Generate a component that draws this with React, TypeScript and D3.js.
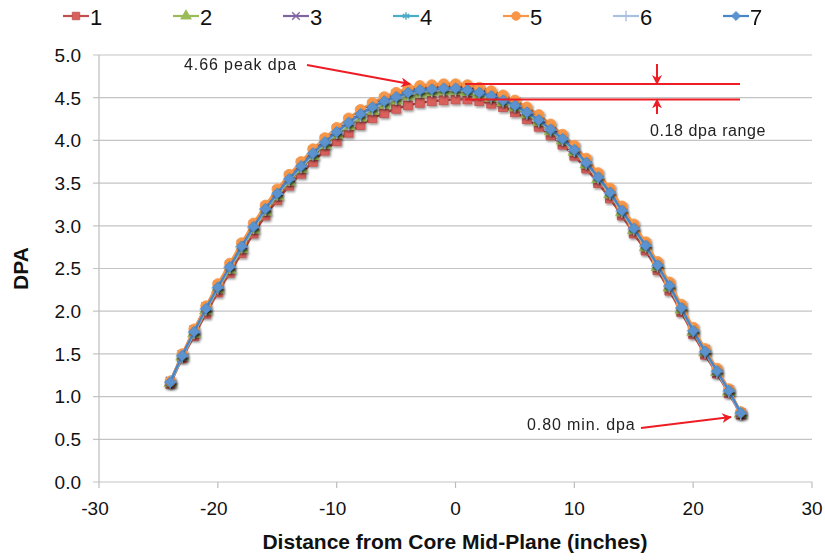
import * as d3 from "d3";

const distance = [
  -24, -23, -22, -21, -20, -19, -18, -17, -16, -15, -14, -13, -12, -11, -10, -9, -8, -7, -6, -5, -4, -3, -2, -1, 0,
  1, 2, 3, 4, 5, 6, 7, 8, 9, 10, 11, 12, 13, 14, 15, 16, 17, 18, 19, 20, 21, 22, 23, 24,
];

const s1 = [
  1.15, 1.45, 1.71, 1.97, 2.22, 2.45, 2.68, 2.91, 3.12, 3.3, 3.47, 3.61, 3.75, 3.88, 3.99, 4.09, 4.18, 4.26, 4.32, 4.37, 4.41, 4.44, 4.46, 4.47, 4.48,
  4.48, 4.46, 4.43, 4.39, 4.33, 4.25, 4.16, 4.06, 3.95, 3.82, 3.67, 3.5, 3.32, 3.12, 2.91, 2.71, 2.48, 2.24, 1.99, 1.73, 1.49, 1.27, 1.04, 0.79,
];
const s2 = [
  1.16, 1.47, 1.74, 2.01, 2.26, 2.49, 2.73, 2.96, 3.17, 3.35, 3.52, 3.67, 3.82, 3.95, 4.07, 4.17, 4.27, 4.35, 4.42, 4.47, 4.52, 4.55, 4.57, 4.58, 4.58,
  4.57, 4.54, 4.5, 4.45, 4.39, 4.31, 4.22, 4.11, 4.0, 3.87, 3.72, 3.55, 3.37, 3.16, 2.95, 2.75, 2.52, 2.28, 2.02, 1.76, 1.52, 1.29, 1.06, 0.8,
];
const s3 = [
  1.18, 1.49, 1.78, 2.05, 2.3, 2.54, 2.78, 3.01, 3.22, 3.41, 3.58, 3.73, 3.88, 4.01, 4.13, 4.24, 4.34, 4.42, 4.49, 4.54, 4.58, 4.61, 4.62, 4.63, 4.63,
  4.62, 4.59, 4.55, 4.5, 4.44, 4.36, 4.27, 4.16, 4.05, 3.92, 3.77, 3.6, 3.42, 3.21, 3.0, 2.79, 2.56, 2.32, 2.06, 1.79, 1.55, 1.31, 1.08, 0.81,
];
const s4 = [
  1.17, 1.48, 1.76, 2.03, 2.28, 2.52, 2.75, 2.98, 3.19, 3.37, 3.54, 3.69, 3.84, 3.97, 4.09, 4.2, 4.3, 4.38, 4.45, 4.5, 4.55, 4.58, 4.59, 4.6, 4.6,
  4.58, 4.55, 4.51, 4.46, 4.4, 4.32, 4.23, 4.12, 4.01, 3.88, 3.73, 3.56, 3.38, 3.17, 2.96, 2.76, 2.53, 2.29, 2.03, 1.77, 1.52, 1.3, 1.07, 0.8,
];
const s5 = [
  1.18, 1.5, 1.79, 2.06, 2.32, 2.56, 2.8, 3.03, 3.24, 3.43, 3.6, 3.75, 3.9, 4.03, 4.15, 4.26, 4.36, 4.44, 4.51, 4.56, 4.61, 4.64, 4.65, 4.66, 4.66,
  4.65, 4.62, 4.58, 4.53, 4.47, 4.39, 4.3, 4.19, 4.07, 3.94, 3.79, 3.62, 3.44, 3.23, 3.02, 2.81, 2.58, 2.34, 2.08, 1.81, 1.56, 1.33, 1.09, 0.82,
];
const s6 = [
  1.17, 1.47, 1.75, 2.02, 2.27, 2.51, 2.75, 2.98, 3.19, 3.37, 3.54, 3.69, 3.84, 3.97, 4.09, 4.19, 4.29, 4.37, 4.44, 4.49, 4.54, 4.57, 4.58, 4.59, 4.59,
  4.58, 4.55, 4.51, 4.46, 4.4, 4.32, 4.23, 4.12, 4.01, 3.88, 3.73, 3.56, 3.38, 3.17, 2.96, 2.76, 2.53, 2.29, 2.03, 1.77, 1.52, 1.29, 1.06, 0.8,
];
const s7 = [
  1.17, 1.48, 1.76, 2.03, 2.28, 2.52, 2.76, 2.99, 3.2, 3.38, 3.55, 3.7, 3.85, 3.98, 4.1, 4.21, 4.31, 4.39, 4.46, 4.51, 4.56, 4.59, 4.6, 4.61, 4.61,
  4.59, 4.56, 4.52, 4.47, 4.41, 4.33, 4.24, 4.13, 4.02, 3.89, 3.74, 3.57, 3.39, 3.18, 2.97, 2.77, 2.54, 2.3, 2.04, 1.77, 1.53, 1.3, 1.07, 0.81,
];

const seriesNames = ["1", "2", "3", "4", "5", "6", "7"];
const seriesValues = [s1, s2, s3, s4, s5, s6, s7];
const xTicks = [-30, -20, -10, 0, 10, 20, 30];
const yTicks = [0, 0.5, 1, 1.5, 2, 2.5, 3, 3.5, 4, 4.5, 5];

const styles = [
  { line: "#C0504D", fill: "#D9605C", shape: "square", size: 80 },
  { line: "#9BBB59", fill: "#9BBB59", shape: "triangle", size: 70 },
  { line: "#8064A2", fill: "none", shape: "times", size: 55 },
  { line: "#4BACC6", fill: "none", shape: "asterisk", size: 55 },
  { line: "#F79646", fill: "#F79646", shape: "circle", size: 85 },
  { line: "#A9C1E0", fill: "none", shape: "plus", size: 55 },
  { line: "#4A86C5", fill: "#5B93CF", shape: "diamond", size: 75 },
];

const symbolFor: Record<string, any> = {
  square: d3.symbolSquare,
  triangle: d3.symbolTriangle,
  times: d3.symbolTimes,
  asterisk: d3.symbolAsterisk,
  circle: d3.symbolCircle,
  plus: d3.symbolPlus,
  diamond: d3.symbolDiamond2,
};

const W = 825;
const H = 560;
const margin = { top: 55, right: 13, bottom: 78, left: 99 };

function Marker({ st, x, y, size }: { st: any; x: number; y: number; size: number }) {
  const path = d3.symbol(symbolFor[st.shape], size)()!;
  const stroked = st.fill === "none";
  return (
    <path
      d={path}
      transform={`translate(${x},${y})`}
      fill={stroked ? "none" : st.fill}
      stroke={st.line}
      strokeWidth={stroked ? 1.4 : 0.8}
    />
  );
}

export default function App() {
  const x = d3.scaleLinear().domain([-30, 30]).range([margin.left, W - margin.right]);
  const y = d3.scaleLinear().domain([0, 5]).range([H - margin.bottom, margin.top]);
  const line = d3
    .line<number>()
    .x((_, i) => x(distance[i]))
    .y((d) => y(d));

  const font = "'Liberation Sans', Arial, sans-serif";
  const red = "#EE1C24";

  return (
    <svg width={W} height={H} style={{ position: "absolute", left: 0, top: 0, background: "#fff" }} fontFamily={font}>
      <defs>
        <filter id="shadow" x="-50%" y="-50%" width="200%" height="200%">
          <feDropShadow dx="1.2" dy="1.5" stdDeviation="0.8" floodColor="#000" floodOpacity="0.45" />
        </filter>
        <marker id="arrow" viewBox="0 0 10 10" refX="9" refY="5" markerWidth="10" markerHeight="10" orient="auto-start-reverse" markerUnits="userSpaceOnUse">
          <path d="M0,0 L10,5 L0,10 L3,5 Z" fill={red} />
        </marker>
      </defs>

      {/* gridlines */}
      {yTicks.map((t) => (
        <line key={t} x1={margin.left - 6} x2={W - margin.right} y1={y(t)} y2={y(t)} stroke="#C4C4C4" strokeWidth={1.2} />
      ))}
      <line x1={margin.left} x2={margin.left} y1={margin.top} y2={H - margin.bottom} stroke="#BDBDBD" strokeWidth={1.2} />
      {xTicks.map((t) => (
        <line key={t} x1={x(t)} x2={x(t)} y1={y(0)} y2={y(0) + 6} stroke="#BDBDBD" strokeWidth={1.2} />
      ))}

      {/* tick labels */}
      {yTicks.map((t) => (
        <text key={t} x={81} y={y(t)} dy="0.36em" textAnchor="end" fontSize={19} fill="#111">
          {t.toFixed(1)}
        </text>
      ))}
      {xTicks.map((t) => (
        <text key={t} x={x(t) - (t < 0 ? 4 : 0)} y={y(0) + 33} textAnchor="middle" fontSize={19} fill="#111">
          {t}
        </text>
      ))}
      <text x={455} y={549} textAnchor="middle" fontSize={21} fontWeight="bold" fill="#111">
        Distance from Core Mid-Plane (inches)
      </text>
      <text transform={`translate(28,${(margin.top + H - margin.bottom) / 2}) rotate(-90)`} textAnchor="middle" fontSize={21} fontWeight="bold" fill="#111">
        DPA
      </text>

      {/* series */}
      {seriesValues.map((vals, si) => (
        <g key={si}>
          <path d={line(vals)!} fill="none" stroke={styles[si].line} strokeWidth={2.4} />
          <g filter="url(#shadow)">
            {vals.map((v, i) => (
              <Marker key={i} st={styles[si]} x={x(distance[i])} y={y(v)} size={styles[si].size} />
            ))}
          </g>
        </g>
      ))}

      {/* legend */}
      {seriesNames.map((n, i) => {
        const lx = 63 + i * 110;
        return (
          <g key={n}>
            <line x1={lx} x2={lx + 26} y1={16} y2={16} stroke={styles[i].line} strokeWidth={2.2} />
            <Marker st={styles[i]} x={lx + 13} y={16} size={styles[i].size * 0.7} />
            <text x={lx + 27} y={17} dy="0.36em" fontSize={22} fill="#111">
              {n}
            </text>
          </g>
        );
      })}

      {/* annotations */}
      <text x={184} y={70} fontSize={16} letterSpacing={0.9} fill="#222">4.66 peak dpa</text>
      <line x1={307} y1={65} x2={410} y2={84} stroke={red} strokeWidth={2} markerEnd="url(#arrow)" />
      <line x1={465} x2={740} y1={y(4.66)} y2={y(4.66)} stroke={red} strokeWidth={2} />
      <line x1={465} x2={740} y1={y(4.48)} y2={y(4.48)} stroke={red} strokeWidth={2} />
      <line x1={657} x2={657} y1={64} y2={y(4.66)} stroke={red} strokeWidth={2} markerEnd="url(#arrow)" />
      <line x1={657} x2={657} y1={114} y2={y(4.48)} stroke={red} strokeWidth={2} markerEnd="url(#arrow)" />
      <text x={650} y={136} fontSize={16} letterSpacing={0.6} fill="#222">0.18 dpa range</text>
      <text x={527} y={430} fontSize={16} letterSpacing={0.9} fill="#222">0.80 min. dpa</text>
      <line x1={641} y1={428} x2={731} y2={417} stroke={red} strokeWidth={2} markerEnd="url(#arrow)" />
    </svg>
  );
}
